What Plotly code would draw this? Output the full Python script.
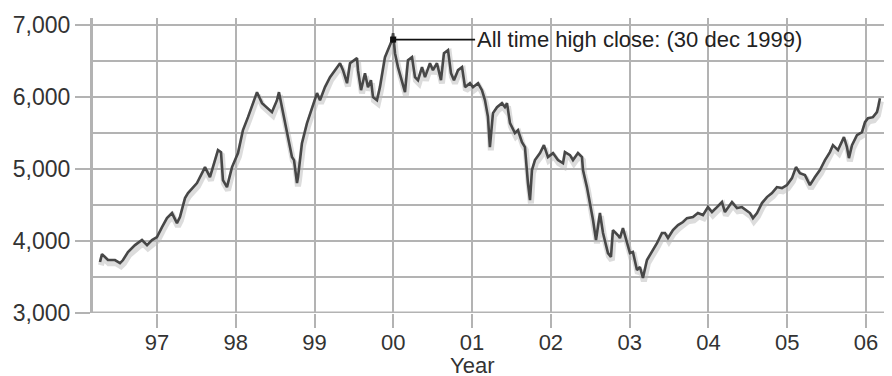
import plotly.graph_objects as go

# Decimal-year positions and index closing values
years = [
    1996.276, 1996.301, 1996.377, 1996.466, 1996.530, 1996.568, 1996.631, 1996.720,
    1996.809, 1996.873, 1996.936, 1996.999, 1997.063, 1997.126, 1997.190, 1997.253,
    1997.291, 1997.355, 1997.393, 1997.456, 1997.507, 1997.571, 1997.609, 1997.672,
    1997.710, 1997.774, 1997.812, 1997.837, 1997.888, 1997.952, 1998.028, 1998.091,
    1998.155, 1998.218, 1998.269, 1998.333, 1998.396, 1998.459, 1998.523, 1998.548,
    1998.586, 1998.624, 1998.663, 1998.713, 1998.739, 1998.777, 1998.790, 1998.840,
    1998.904, 1998.967, 1999.031, 1999.069, 1999.132, 1999.196, 1999.259, 1999.323,
    1999.361, 1999.412, 1999.450, 1999.539, 1999.551, 1999.590, 1999.640, 1999.678,
    1999.716, 1999.742, 1999.792, 1999.830, 1999.894, 1999.932, 1999.983, 1999.997,
    2000.021, 2000.059, 2000.110, 2000.148, 2000.186, 2000.237, 2000.275, 2000.313,
    2000.364, 2000.402, 2000.465, 2000.503, 2000.554, 2000.605, 2000.643, 2000.694,
    2000.732, 2000.770, 2000.821, 2000.872, 2000.910, 2000.973, 2001.011, 2001.075,
    2001.125, 2001.163, 2001.201, 2001.226, 2001.265, 2001.316, 2001.379, 2001.417,
    2001.443, 2001.481, 2001.544, 2001.582, 2001.633, 2001.671, 2001.709, 2001.735,
    2001.760, 2001.798, 2001.862, 2001.912, 2001.963, 2002.027, 2002.090, 2002.154,
    2002.179, 2002.243, 2002.281, 2002.344, 2002.395, 2002.408, 2002.458, 2002.496,
    2002.535, 2002.573, 2002.623, 2002.662, 2002.725, 2002.763, 2002.788, 2002.852,
    2002.877, 2002.915, 2002.966, 2003.004, 2003.042, 2003.093, 2003.131, 2003.169,
    2003.220, 2003.284, 2003.347, 2003.410, 2003.449, 2003.487, 2003.550, 2003.614,
    2003.677, 2003.728, 2003.804, 2003.867, 2003.931, 2003.994, 2004.045, 2004.109,
    2004.172, 2004.210, 2004.299, 2004.363, 2004.426, 2004.528, 2004.566, 2004.617,
    2004.680, 2004.743, 2004.807, 2004.870, 2004.934, 2004.997, 2005.061, 2005.112,
    2005.162, 2005.226, 2005.289, 2005.353, 2005.416, 2005.480, 2005.543, 2005.581,
    2005.645, 2005.721, 2005.759, 2005.784, 2005.823, 2005.886, 2005.950, 2005.988,
    2006.026, 2006.089, 2006.140, 2006.153, 2006.178,
]
closes = [
    3708, 3819, 3736, 3736, 3694, 3736, 3847, 3944,
    4014, 3944, 4014, 4056, 4194, 4319, 4389, 4250,
    4333, 4597, 4667, 4750, 4806, 4944, 5028, 4889,
    5028, 5264, 5236, 4847, 4750, 5028, 5222, 5542,
    5722, 5917, 6069, 5917, 5861, 5792, 5958, 6069,
    5861, 5639, 5444, 5167, 5125, 4806, 4889, 5361,
    5639, 5861, 6056, 5958, 6139, 6278, 6375, 6472,
    6375, 6194, 6472, 6542, 6375, 6097, 6333, 6139,
    6236, 6000, 5958, 6139, 6556, 6653, 6792, 6889,
    6611, 6417, 6236, 6069, 6514, 6556, 6278, 6236,
    6417, 6278, 6472, 6375, 6472, 6236, 6611, 6653,
    6333, 6236, 6375, 6417, 6139, 6194, 6139, 6194,
    6097, 5960, 5730, 5306, 5778, 5861, 5917, 5861,
    5917, 5639, 5500, 5542, 5375, 5306, 4806, 4569,
    4986, 5125, 5222, 5333, 5167, 5222, 5125, 5083,
    5236, 5194, 5125, 5222, 5167, 4986, 4750, 4528,
    4292, 4014, 4389, 4111, 3833, 3778, 4153, 4080,
    4042, 4181, 3972, 3833, 3847, 3597, 3639, 3486,
    3736, 3847, 3972, 4111, 4111, 4042, 4153, 4222,
    4264, 4319, 4333, 4389, 4361, 4472, 4403, 4472,
    4542, 4403, 4542, 4458, 4472, 4389, 4319, 4389,
    4528, 4611, 4667, 4750, 4736, 4778, 4875, 5028,
    4944, 4917, 4778, 4889, 4986, 5125, 5236, 5333,
    5264, 5444, 5306, 5153, 5333, 5472, 5514, 5653,
    5708, 5722, 5792, 5847, 5986,
]

ath_year = 1999.997
ath_marker_value = 6800
ath_label = "All time high close: (30 dec 1999)"

tick_years = [1997, 1998, 1999, 2000, 2001, 2002, 2003, 2004, 2005, 2006]
tick_labels = ["97", "98", "99", "00", "01", "02", "03", "04", "05", "06"]
y_ticks = [3000, 4000, 5000, 6000, 7000]
y_tick_labels = ["3,000", "4,000", "5,000", "6,000", "7,000"]
x_title = "Year"
x_title_year = 2001.0

shadow_offset = 45
FONT = "Liberation Sans, Arial, Helvetica, sans-serif"

fig = go.Figure()
fig.add_trace(go.Scatter(
    x=[v + 0.012 for v in years], y=[c - shadow_offset for c in closes],
    mode="lines", line=dict(color="rgba(185,185,185,0.5)", width=6),
    hoverinfo="skip", showlegend=False,
))
fig.add_trace(go.Scatter(
    x=years, y=closes, mode="lines",
    line=dict(color="#474747", width=2.6), showlegend=False,
))
fig.add_trace(go.Scatter(
    x=[ath_year], y=[ath_marker_value], mode="markers",
    marker=dict(symbol="square", size=6, color="#111111"), showlegend=False,
))

fig.add_annotation(
    x=ath_year, y=ath_marker_value, text=ath_label,
    showarrow=True, arrowhead=0, arrowwidth=1.6, arrowcolor="#111111",
    ax=246, ay=0, standoff=0,
    font=dict(family=FONT, size=22, color="#222222"),
)
fig.add_annotation(
    x=x_title_year, xref="x", y=0, yref="paper", yanchor="top",
    yshift=-38, text=x_title, showarrow=False,
    font=dict(family=FONT, size=22, color="#333333"),
)

grid = "#b3b3b3"
# page has an 8px body margin: figure is sized so the plot lands where the reference has it
fig.update_layout(
    width=884, height=368,
    margin=dict(l=85, r=0, t=10, b=63),
    paper_bgcolor="white", plot_bgcolor="white",
    font=dict(family=FONT, size=22, color="#333333"),
    xaxis=dict(
        range=[1996.187, 2006.331], tickvals=tick_years, ticktext=tick_labels,
        showgrid=True, gridcolor=grid, gridwidth=1.8,
        ticks="outside", ticklen=14, tickwidth=2.2, tickcolor=grid,
        showline=False, zeroline=False, tickfont=dict(size=22),
        ticklabelstandoff=-4,
    ),
    yaxis=dict(
        range=[3000, 7100], tickvals=y_ticks, ticktext=y_tick_labels,
        showgrid=True, gridcolor=grid, gridwidth=2,
        minor=dict(dtick=500, tick0=3000, showgrid=True, gridcolor=grid, gridwidth=1.6),
        ticks="outside", ticklen=15, tickwidth=2.2, tickcolor=grid,
        showline=True, linecolor=grid, linewidth=3, zeroline=False,
        tickfont=dict(size=23),
    ),
)
fig.add_shape(type="line", xref="paper", yref="y", x0=0, x1=1, y0=3000, y1=3000,
              line=dict(color=grid, width=3))

fig.write_html("out.html")
